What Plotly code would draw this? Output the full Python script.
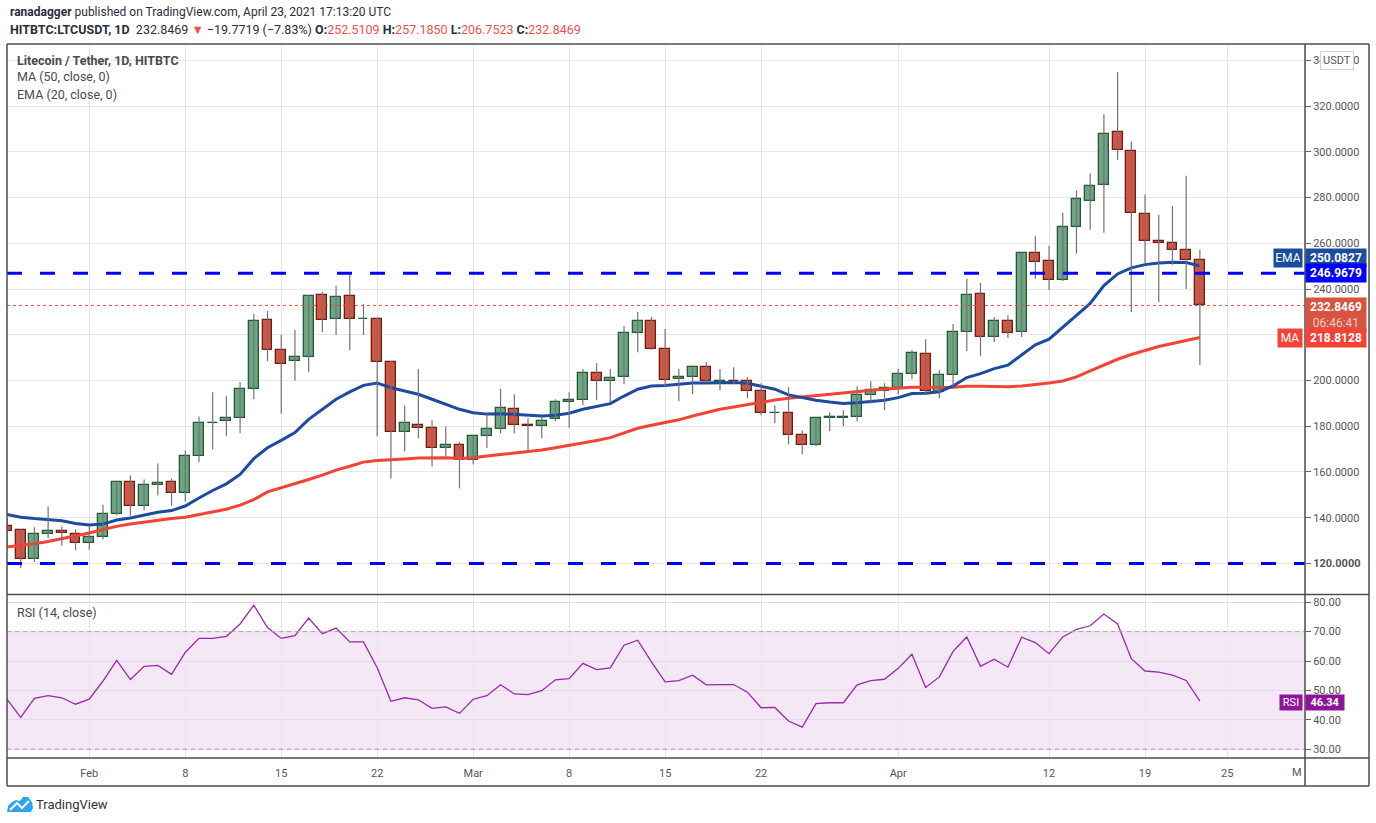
import plotly.graph_objects as go
import pandas as pd

# Daily LTC/USDT candles, Jan 26 - Apr 23 2021
dates = pd.date_range("2021-01-26", "2021-04-23", freq="D")

opens = [136.5, 134.8, 122.1, 133.0, 134.3, 133.0,
         129.1, 131.7, 141.8, 155.8, 145.3, 154.5, 155.4, 150.6, 167.2, 181.3, 182.2, 183.5, 196.5, 226.5,
         213.3, 208.5, 210.2, 237.4, 226.9, 237.0, 226.7, 226.9, 208.0, 177.3, 180.4, 179.1, 170.3, 171.7,
         165.1, 175.6, 178.6, 187.4, 180.4, 180.0, 183.0, 190.7, 191.4, 203.2, 200.0, 201.4, 220.7, 226.0,
         213.7, 200.6, 201.4, 205.8, 199.5, 200.0, 199.7, 195.3, 185.6, 185.7, 176.0, 171.6, 183.5, 183.8,
         183.9, 193.6, 195.3,
         196.6, 202.8, 211.5, 194.9, 202.4, 221.2, 237.9, 219.0, 226.0, 221.2, 255.8, 252.3, 244.0, 267.2,
         278.7, 285.7, 308.5, 300.6, 272.9, 261.1, 260.2, 257.1, 252.5109]
highs = [140.0, 135.0, 135.8, 144.9, 136.1, 134.8,
         136.1, 145.7, 156.3, 158.5, 156.7, 163.7, 157.1, 169.4, 184.3, 194.9, 193.1, 199.3, 229.1, 230.4,
         220.0, 222.1, 237.4, 238.7, 241.5, 246.3, 233.5, 227.5, 208.5, 189.2, 205.0, 182.6, 180.0, 173.2,
         176.0, 185.2, 196.3, 194.0, 183.5, 184.3, 191.8, 194.9, 205.0, 207.6, 205.0, 223.8, 230.0, 227.8,
         222.5, 205.0, 206.7, 208.0, 205.0, 205.8, 201.4, 198.8, 189.2, 197.1, 178.2, 183.7, 186.1, 187.0,
         197.5, 199.7, 198.8,
         205.0, 213.3, 218.1, 204.5, 224.7, 244.5, 242.7, 227.8, 228.6, 256.0, 263.1, 258.9, 273.4, 283.1,
         290.5, 316.5, 334.8, 304.5, 281.4, 272.5, 276.5, 289.6, 257.1850]
lows = [128.0, 118.0, 120.6, 131.1, 127.8, 125.6,
        126.0, 130.5, 141.0, 140.9, 143.1, 149.7, 145.3, 147.0, 164.2, 169.9, 175.6, 176.9, 191.8, 208.5,
        185.5, 200.0, 203.6, 221.2, 219.9, 213.3, 219.9, 175.6, 157.1, 169.0, 174.7, 162.4, 166.8, 152.8,
        163.3, 170.6, 176.9, 176.9, 168.6, 174.7, 182.2, 179.3, 189.2, 191.4, 190.5, 198.4, 212.4, 213.4,
        197.1, 190.9, 194.0, 199.0, 195.7, 198.4, 192.2, 184.8, 181.3, 172.1, 167.7, 171.2, 177.8, 180.0,
        182.2, 190.0, 187.0,
        194.0, 200.6, 194.4, 192.2, 197.5, 212.9, 210.7, 216.8, 218.6, 219.0, 244.5, 239.6, 243.5, 255.4,
        265.9, 264.6, 296.6, 230.0, 251.0, 234.3, 250.6, 240.0, 206.7523]
closes = [134.3, 122.1, 133.0, 134.3, 133.5, 129.1,
          131.7, 141.8, 155.4, 144.9, 154.5, 155.0, 150.6, 167.2, 181.3, 181.6, 183.5, 196.2, 226.0, 213.3,
          207.2, 210.2, 237.0, 226.5, 236.5, 226.9, 227.0, 208.2, 177.3, 181.3, 179.1, 170.3, 171.7, 165.1,
          175.6, 178.6, 187.8, 180.4, 180.0, 182.2, 190.5, 191.3, 203.2, 199.7, 200.9, 220.7, 226.0, 213.7,
          200.1, 201.4, 205.8, 199.7, 199.8, 199.7, 195.3, 185.7, 185.8, 176.0, 171.6, 183.5, 184.0, 184.1,
          193.6, 195.7, 196.6,
          202.8, 212.0, 195.3, 202.4, 221.2, 237.4, 219.0, 226.0, 220.7, 255.8, 251.9, 244.0, 267.2, 279.5,
          285.2, 308.0, 301.0, 273.4, 261.1, 260.2, 257.1, 252.6, 232.8469]

ema20 = [141.4, 140.2, 139.6, 139.0, 138.7, 137.5,
         136.8, 137.2, 139.0, 139.9, 141.2, 142.4, 143.1, 145.1, 148.6, 151.9, 154.8, 158.9, 165.8, 170.6,
         173.8, 177.2, 183.0, 187.4, 191.8, 195.0, 197.9, 198.9, 196.9, 195.4, 194.0, 191.8, 189.6, 187.4,
         185.9, 185.3, 185.5, 185.2, 184.8, 184.5, 184.8, 185.7, 187.4, 188.6, 189.9, 193.2, 196.2, 197.6,
         197.8, 198.4, 198.9, 198.9, 199.1, 199.1, 198.8, 197.6, 196.2, 193.7, 192.5, 191.4, 190.6, 190.0,
         190.3, 190.9, 191.4,
         192.5, 194.3, 194.4, 195.1, 197.6, 201.3, 203.0, 205.2, 206.7, 211.3, 215.6, 218.1, 223.2, 228.3,
         233.7, 241.5, 246.6, 249.3, 250.7, 251.4, 251.7, 251.6, 250.0827]
ma50 = [127.2, 127.8, 128.6, 129.6, 130.8, 132.1,
        133.3, 134.8, 136.2, 137.2, 138.1, 139.0, 139.6, 140.2, 141.4, 142.5, 143.7, 145.5, 147.9, 151.3,
        153.0, 154.8, 156.7, 158.6, 160.8, 162.5, 164.3, 165.0, 165.5, 165.7, 166.1, 166.2, 166.2, 165.9,
        166.2, 167.0, 167.7, 168.4, 168.8, 169.6, 170.6, 171.6, 172.8, 173.8, 175.0, 177.2, 179.1, 180.4,
        181.5, 182.8, 184.5, 185.9, 187.4, 188.4, 189.5, 190.6, 191.5, 192.2, 192.8, 193.2, 194.0, 194.4,
        195.1, 195.9, 196.3,
        196.6, 197.1, 197.1, 196.9, 197.1, 197.5, 197.5, 197.3, 197.3, 197.6, 198.2, 198.9, 199.8, 201.6,
        204.2, 206.8, 209.3, 211.4, 213.3, 214.9, 216.2, 217.6, 218.8128]
rsi = [47.0, 40.8, 47.3, 48.2, 47.5, 45.3,
       47.0, 53.2, 60.2, 53.7, 58.2, 58.5, 55.5, 62.9, 67.7, 67.7, 68.4, 72.6, 79.0, 71.4,
       67.7, 68.6, 74.6, 69.3, 71.2, 66.5, 66.5, 57.7, 46.3, 47.5, 46.8, 43.9, 44.4, 42.2,
       47.0, 48.2, 51.9, 48.8, 48.6, 49.9, 53.6, 54.0, 59.2, 57.1, 57.7, 65.4, 67.1, 59.7,
       52.9, 53.3, 55.2, 51.9, 52.0, 52.0, 49.4, 44.1, 44.2, 39.6, 37.5, 45.5, 45.8, 45.8,
       51.9, 53.3, 53.8,
       57.5, 62.3, 51.0, 54.6, 63.3, 68.2, 58.2, 60.6, 57.9, 68.1, 66.3, 62.5, 68.2, 70.8,
       72.0, 76.0, 72.6, 60.8, 56.6, 56.2, 55.2, 53.4, 46.34]

support_levels = [246.9679, 120.0]
last_close = 232.8469
price_ticks = list(range(120, 341, 20))
rsi_ticks = [30, 40, 50, 60, 70, 80]
date_ticks = ["2021-02-01", "2021-02-08", "2021-02-15", "2021-02-22", "2021-03-01", "2021-03-08",
              "2021-03-15", "2021-03-22", "2021-04-01", "2021-04-12", "2021-04-19", "2021-04-25"]
date_ticktext = ["Feb", "8", "15", "22", "Mar", "8", "15", "22", "Apr", "12", "19", "25"]

print(len(dates), len(opens), len(highs), len(lows), len(closes), len(ema20), len(ma50), len(rsi), flush=True)

FONT = "Roboto, Liberation Sans, Arial, sans-serif"
GREEN_FILL, GREEN_EDGE = "#6ba583", "#225b35"
RED_FILL, RED_EDGE = "#d65440", "#6f1d15"
EMA_BLUE, MA_RED, RSI_PURPLE = "#1c4ca0", "#f44336", "#9c27b0"
FRAME = "#4d4d4d"
GRID = "#e8e8e8"


# pixel -> paper helpers (plot area: x 7..1305, y 44..758)
def px_x(px):
    return (px - 7) / 1298


def px_y(py):
    return (758 - py) / 714


fig = go.Figure()

# moving averages (drawn under the candles)
fig.add_trace(go.Scatter(x=dates, y=ma50, mode="lines", line=dict(color=MA_RED, width=3),
                         name="MA 50", xaxis="x", yaxis="y"))
fig.add_trace(go.Scatter(x=dates, y=ema20, mode="lines", line=dict(color=EMA_BLUE, width=3),
                         name="EMA 20", xaxis="x", yaxis="y"))

# wicks
wick_x, wick_y = [], []
for d, lo, hi in zip(dates, lows, highs):
    wick_x += [d, d, None]
    wick_y += [lo, hi, None]
fig.add_trace(go.Scatter(x=wick_x, y=wick_y, mode="lines", line=dict(color="#737373", width=1.2),
                         xaxis="x", yaxis="y", hoverinfo="skip"))

# bodies
up = [i for i in range(len(dates)) if closes[i] >= opens[i]]
dn = [i for i in range(len(dates)) if closes[i] < opens[i]]
day_ms = 86400000
for idx, fill, edge in [(up, GREEN_FILL, GREEN_EDGE), (dn, RED_FILL, RED_EDGE)]:
    fig.add_trace(go.Bar(
        x=[dates[i] for i in idx],
        y=[max(abs(closes[i] - opens[i]), 0.25) for i in idx],
        base=[min(opens[i], closes[i]) for i in idx],
        width=0.72 * day_ms,
        marker=dict(color=fill, line=dict(color=edge, width=1.3)),
        xaxis="x", yaxis="y",
    ))

# RSI
fig.add_trace(go.Scatter(x=dates, y=rsi, mode="lines", line=dict(color=RSI_PURPLE, width=1.3),
                         xaxis="x2", yaxis="y2"))

shapes = []
# RSI band and its bounds
shapes.append(dict(type="rect", xref="x2 domain", yref="y2", x0=0, x1=1, y0=30, y1=70,
                   fillcolor="rgba(156,39,176,0.11)", line=dict(width=0), layer="below"))
for lvl in (30, 70):
    shapes.append(dict(type="line", xref="x2 domain", yref="y2", x0=0, x1=1, y0=lvl, y1=lvl,
                       line=dict(color="#a89cae", width=1, dash="4px,4px")))
# horizontal support / resistance
for lvl in support_levels:
    shapes.append(dict(type="line", xref="x domain", yref="y", x0=0, x1=1, y0=lvl, y1=lvl,
                       line=dict(color="#0000ff", width=3, dash="15px,18px"), layer="above"))
shapes.append(dict(type="line", xref="x domain", yref="y", x0=0, x1=1, y0=last_close, y1=last_close,
                   line=dict(color=RED_FILL, width=1, dash="dot"), layer="above"))

# chart frame
right_edge = px_x(1369)
bottom_edge = px_y(786)
for (x0, y0, x1, y1) in [
    (0, bottom_edge, 0, 1), (right_edge, bottom_edge, right_edge, 1), (1, bottom_edge, 1, 1),
    (0, 1, right_edge, 1), (0, px_y(594.5), right_edge, px_y(594.5)),
    (0, 0, right_edge, 0), (0, bottom_edge, right_edge, bottom_edge),
]:
    shapes.append(dict(type="line", xref="paper", yref="paper", x0=x0, y0=y0, x1=x1, y1=y1,
                       line=dict(color=FRAME, width=1.5), layer="above"))


# TradingView logo (small cloud)
def logo_path(points):
    return "M " + " L ".join(f"{px_x(a):.5f},{px_y(b):.5f}" for a, b in points) + " Z"


shapes.append(dict(type="path", xref="paper", yref="paper", fillcolor="#2ea3f2", line=dict(width=0),
                   path=logo_path([(7, 812), (8, 806), (12, 802), (16, 800), (20, 801), (23, 797),
                                   (28, 797), (32, 802), (33, 808), (31, 812)])))
shapes.append(dict(type="path", xref="paper", yref="paper", line=dict(color="white", width=2),
                   path="M {:.5f},{:.5f} L {:.5f},{:.5f} L {:.5f},{:.5f} L {:.5f},{:.5f}".format(
                       px_x(10), px_y(810), px_x(17), px_y(803), px_x(22), px_y(808), px_x(29), px_y(801))))

annotations = []
TXT = "#2a2e39"
RED_TXT = "#f0524a"
annotations.append(dict(xref="paper", yref="paper", x=px_x(8), y=px_y(12), xanchor="left", yanchor="middle",
                        showarrow=False, font=dict(family=FONT, size=12, color=TXT),
                        text="<b>ranadagger</b> published on TradingView.com, April 23, 2021 17:13:20 UTC"))
annotations.append(dict(
    xref="paper", yref="paper", x=px_x(8), y=px_y(29), xanchor="left", yanchor="middle", showarrow=False,
    font=dict(family=FONT, size=12.5, color=TXT),
    text=("<b>HITBTC:LTCUSDT, 1D</b>  232.8469 <span style='color:#f0524a'>▼</span> −19.7719 (−7.83%) "
          f"<b>O:</b><span style='color:{RED_TXT}'>252.5109</span> <b>H:</b><span style='color:{RED_TXT}'>257.1850</span> "
          f"<b>L:</b><span style='color:{RED_TXT}'>206.7523</span> <b>C:</b><span style='color:{RED_TXT}'>232.8469</span>")))
for text, py in [("<b>Litecoin / Tether, 1D, HITBTC</b>", 60), ("MA (50, close, 0)", 77),
                 ("EMA (20, close, 0)", 95)]:
    annotations.append(dict(xref="paper", yref="paper", x=px_x(15), y=px_y(py), xanchor="left",
                            yanchor="middle", showarrow=False, text=text,
                            font=dict(family=FONT, size=12.5, color="#4a4a4a")))
annotations.append(dict(xref="paper", yref="paper", x=px_x(15), y=px_y(612), xanchor="left", yanchor="middle",
                        showarrow=False, text="RSI (14, close)", font=dict(family=FONT, size=12.5, color="#4a4a4a")))
annotations.append(dict(xref="paper", yref="paper", x=px_x(34), y=px_y(804), xanchor="left", yanchor="middle",
                        showarrow=False, text="TradingView", font=dict(family=FONT, size=13, color="#333")))
annotations.append(dict(xref="paper", yref="paper", x=px_x(1304), y=px_y(772), xanchor="right", yanchor="middle",
                        showarrow=False, text="M", font=dict(family=FONT, size=11, color="#555")))
annotations.append(dict(xref="paper", yref="paper", x=px_x(1337), y=px_y(60), xanchor="center", yanchor="middle",
                        showarrow=False, text="USDT", font=dict(family=FONT, size=11, color="#555"),
                        bgcolor="white", bordercolor="#cfd3dc", borderwidth=1, borderpad=2))

# price-axis labels
label_font = dict(family=FONT, size=12, color="white")
rsi_font = dict(family=FONT, size=11, color="white")
annotations += [
    dict(xref="paper", yref="y", x=1, y=ema20[-1], yshift=8, xanchor="left", showarrow=False,
         text="<b>250.0827</b>", bgcolor=EMA_BLUE, font=label_font, width=56, borderpad=2),
    dict(xref="paper", yref="y", x=1, y=ema20[-1], yshift=8, xanchor="right", xshift=-2, showarrow=False,
         text="EMA", bgcolor=EMA_BLUE, font=label_font, width=24, borderpad=2),
    dict(xref="paper", yref="y", x=1, y=support_levels[0], xanchor="left", showarrow=False,
         text="<b>246.9679</b>", bgcolor="#0000ff", font=label_font, width=56, borderpad=2),
    dict(xref="paper", yref="y", x=1, y=last_close, yanchor="top", yshift=8, xanchor="left", showarrow=False,
         text="<b>232.8469</b><br><span style='color:#f6c9c1'>06:46:41</span>", bgcolor=RED_FILL,
         font=label_font, width=56, borderpad=2),
    dict(xref="paper", yref="y", x=1, y=ma50[-1], xanchor="left", showarrow=False,
         text="<b>218.8128</b>", bgcolor=MA_RED, font=label_font, width=56, borderpad=2),
    dict(xref="paper", yref="y", x=1, y=ma50[-1], xanchor="right", xshift=-2, showarrow=False,
         text="MA", bgcolor=MA_RED, font=label_font, width=20, borderpad=2),
    dict(xref="paper", yref="y2", x=1, y=rsi[-1], yshift=-1, xanchor="left", showarrow=False,
         text="<b>46.34</b>", bgcolor="#8e1599", font=rsi_font, width=36, borderpad=1),
    dict(xref="paper", yref="y2", x=1, y=rsi[-1], yshift=-1, xanchor="right", xshift=-2, showarrow=False,
         text="RSI", bgcolor="#8e1599", font=rsi_font, width=20, borderpad=1),
]

x_range = ["2021-01-26 00:00", "2021-04-30 16:00"]
tick_font = dict(family=FONT, size=11, color="#555")
# 220 is hidden behind the MA label in the original
price_ticktext = ["<b>120.0000</b>"] + ["" if v == 220 else f"{v}.0000" for v in price_ticks[1:]]

fig.update_layout(
    width=1376,
    height=823,
    margin=dict(l=7, r=71, t=44, b=65),
    paper_bgcolor="white",
    plot_bgcolor="white",
    showlegend=False,
    barmode="overlay",
    bargap=0,
    hovermode=False,
    shapes=shapes,
    annotations=annotations,
    xaxis=dict(domain=[0, 1], anchor="y", range=x_range, type="date", tickvals=date_ticks,
               ticktext=date_ticktext, showticklabels=False, showgrid=True, gridcolor=GRID,
               zeroline=False, showline=False, ticks=""),
    xaxis2=dict(domain=[0, 1], anchor="y2", matches="x", type="date", tickvals=date_ticks,
                ticktext=date_ticktext, showgrid=True, gridcolor=GRID, zeroline=False, showline=False,
                ticks="", tickfont=tick_font, ticklabelstandoff=7),
    yaxis=dict(domain=[px_y(594.5), 1], anchor="x", side="right", range=[106.4, 347.2],
               tickvals=price_ticks, ticktext=price_ticktext,
               showgrid=True, gridcolor=GRID, zeroline=False, showline=False,
               ticks="outside", ticklen=5, tickcolor="#666", tickfont=tick_font),
    yaxis2=dict(domain=[0, px_y(595.5)], anchor="x2", side="right", range=[27.0, 82.3],
                tickvals=rsi_ticks, ticktext=[f"{v}.00" for v in rsi_ticks],
                showgrid=True, gridcolor="#e2dbe6", zeroline=False, showline=False,
                ticks="outside", ticklen=5, tickcolor="#666", tickfont=tick_font),
)

# page body has a default 8px margin; drop it so the chart sits at the window's corner
fig.write_html("out.html", config={"displayModeBar": False},
               post_script="document.body.style.margin='0px';")
print("Saved out.html", flush=True)
